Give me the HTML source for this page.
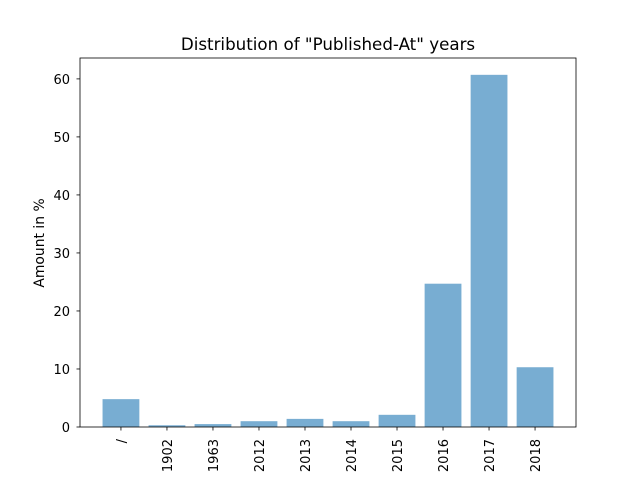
<!DOCTYPE html>
<html><head><meta charset="utf-8"><style>
body{margin:0;background:#fff;width:640px;height:480px;overflow:hidden;font-family:"DejaVu Sans","Liberation Sans",sans-serif}
</style></head><body>
<svg id="chart" width="640" height="480" xmlns="http://www.w3.org/2000/svg" font-family="DejaVu Sans, Liberation Sans, sans-serif">
<rect width="640" height="480" fill="#fff"/>
<text x="328" y="50" text-anchor="middle" font-size="16.7" fill="#000">Distribution of "Published-At" years</text>
<text transform="translate(44,243) rotate(-90)" text-anchor="middle" font-size="13.9" fill="#000">Amount in %</text>
<text x="328" y="491" text-anchor="middle" font-size="13.9" fill="#000">Year</text>
<g id="plot"></g>
</svg>
<script>
const categories = ["/","1902","1963","2012","2013","2014","2015","2016","2017","2018"];
const values = [4.8,0.3,0.5,1.0,1.4,1.0,2.1,24.7,60.7,10.3];
const yTicks = [0,10,20,30,40,50,60];

const L=80,R=576,T=58,B=427;
const xmin=-0.89,xmax=categories.length-1+0.89,ymax=63.6;
const x=i=>L+(i-xmin)/(xmax-xmin)*(R-L);
const y=v=>B-v/ymax*(B-T);
const g=document.getElementById('plot');
const NS="http://www.w3.org/2000/svg";
function mk(t,a){const e=document.createElementNS(NS,t);for(const k in a)e.setAttribute(k,a[k]);g.appendChild(e);return e;}
const bw=0.8*(x(1)-x(0));
values.forEach((v,i)=>{
  const r=mk('rect',{x:x(i)-bw/2,y:y(v),width:bw,height:B-y(v),fill:'#78add2'});
  
  
  const tk=mk('line',{x1:x(i),x2:x(i),y1:B,y2:B+3.5,stroke:'#000','stroke-width':0.8});
  
  
  const tx=mk('text',{transform:`translate(${x(i)+5},${B+12}) rotate(-90)`,'text-anchor':'end','font-size':13,fill:'#000'});
  tx.textContent=categories[i];
  
  
});
yTicks.forEach(t=>{
  const tk=mk('line',{x1:L-3.5,x2:L,y1:y(t),y2:y(t),stroke:'#000','stroke-width':0.8});
  
  
  const tx=mk('text',{x:L-10,y:y(t)+5,'text-anchor':'end','font-size':13,fill:'#000'});
  tx.textContent=t;
  
  
});
const fr=mk('rect',{x:L,y:T,width:R-L,height:B-T,fill:'none',stroke:'#000','stroke-width':0.8});


</script>
</body></html>
